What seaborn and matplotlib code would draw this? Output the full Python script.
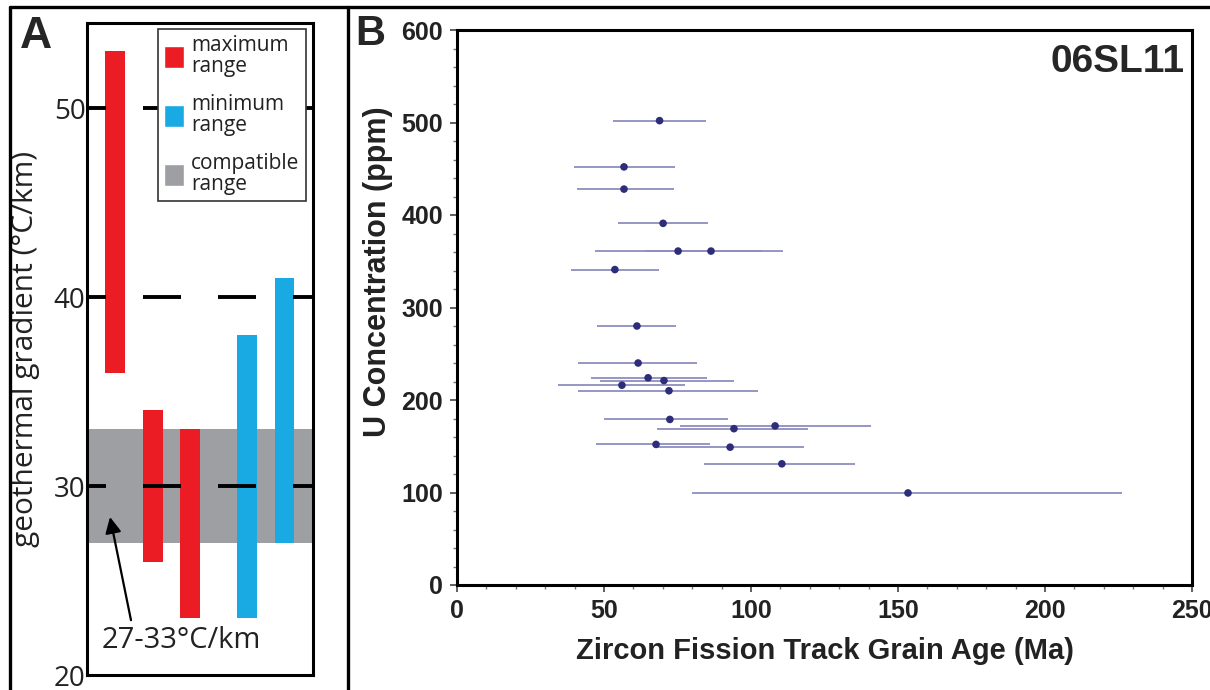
import matplotlib
matplotlib.use("Agg")
import matplotlib.pyplot as plt
import seaborn as sns
import pandas as pd
from matplotlib.patches import Patch
from matplotlib.lines import Line2D
from matplotlib.ticker import MultipleLocator

# ---------------- Panel A data ----------------
range_kind = ["maximum", "maximum", "maximum", "minimum", "minimum"]
range_pos = [1, 2, 3, 4.5, 5.5]
range_low = [36, 26, 23, 23, 27]
range_high = [53, 34, 33, 38, 41]
compatible_range = [27, 33]
gradient_ref = [30, 40, 50]
gradient_ticks = [20, 30, 40, 50]
legend_labels = ["maximum\nrange", "minimum\nrange", "compatible\nrange"]

# ---------------- Panel B data ----------------
grain_age = [68.9, 56.8, 56.8, 70.1, 75.2, 86.4, 53.7, 61.2, 61.6, 65.0,
             70.4, 56.1, 72.1, 72.4, 94.2, 108.2, 67.7, 92.9, 110.5, 153.4]
age_low = [53.1, 39.8, 40.8, 54.8, 46.9, 63.9, 38.8, 47.6, 41.2, 45.6,
           48.6, 34.4, 41.2, 50.0, 68.0, 75.9, 47.3, 67.3, 84.0, 79.9]
age_high = [84.7, 74.1, 73.8, 85.4, 103.7, 110.9, 68.7, 74.5, 81.6, 85.0,
            94.2, 77.6, 102.4, 92.2, 119.4, 140.8, 86.1, 118.0, 135.4, 226.2]
u_ppm = [502, 452, 428, 391, 361, 361, 341, 280, 240, 224,
         221, 216, 210, 179, 169, 172, 152, 149, 131, 99.5]
sample_name = "06SL11"

sns.set_style("white")
plt.rcParams["font.family"] = ["Liberation Sans", "DejaVu Sans"]
plt.rcParams["lines.scale_dashes"] = False

RED = "#ec1c24"
BLUE = "#19a9e3"
GRAY = "#9e9fa2"
kind_color = {"maximum": RED, "minimum": BLUE}

fig = plt.figure(figsize=(12.1, 6.9), dpi=100)
W, H = 1210.0, 690.0

# ---------------- Panel A ----------------
axA = fig.add_axes([87 / W, 1 - 675 / H, 226 / W, 652 / H])
fA = "Open Sans"
axA.axhspan(compatible_range[0], compatible_range[1], color=GRAY, lw=0, zorder=0)
heights = [h - l for h, l in zip(range_high, range_low)]
axA.bar(range_pos, heights, bottom=range_low, width=0.53,
        color=[kind_color[k] for k in range_kind], lw=0, zorder=2)
px = 0.72
for y in gradient_ref:
    axA.axhline(y, color="black", lw=2.8,
                linestyle=(19 * px, (38 * px, 37 * px)), zorder=3)
axA.set_xlim(0.257, 6.257)
axA.set_ylim(20, 54.5)
axA.set_xticks([])
axA.set_yticks(gradient_ticks)
axA.set_yticklabels([str(t) for t in gradient_ticks], family=fA, fontsize=20,
                    color="#222222")
axA.tick_params(axis="y", length=0, pad=1)
axA.set_ylabel("geothermal gradient (°C/km)", family=fA, fontsize=21.5,
               color="#222222", labelpad=0)
axA.yaxis.set_label_coords(40 / 226 - 87 / 226, 0.5)
for s in axA.spines.values():
    s.set_linewidth(2.2)
    s.set_color("black")
handles = [Patch(facecolor=RED), Patch(facecolor=BLUE), Patch(facecolor=GRAY)]
leg = axA.legend(handles, legend_labels, loc="upper right",
                 bbox_to_anchor=(306 / 226 - 87 / 226, 1 - 6 / 652),
                 prop={"family": fA, "size": 15},
                 frameon=True, fancybox=False, edgecolor="#333333", framealpha=1,
                 handlelength=0.95, handleheight=1.25, handletextpad=0.35,
                 labelspacing=0.8, borderpad=0.3, borderaxespad=0)
leg.get_frame().set_linewidth(1.2)
for t in leg.get_texts():
    t.set_linespacing(1.0)
    t.set_color("#222222")
axA.annotate("", xy=(0.868, 28.36), xytext=(1.425, 22.9),
             arrowprops=dict(arrowstyle="-|>", color="black", lw=1.6,
                             mutation_scale=24, shrinkA=0, shrinkB=0), zorder=4)
axA.text(2.75, 21.8, "27-33°C/km", ha="center", va="center", family=fA,
         fontsize=21, color="#222222")

# ---------------- Panel B ----------------
axB = fig.add_axes([457 / W, 1 - 585 / H, 735 / W, 555 / H])
df = pd.DataFrame({"age": grain_age, "lo": age_low, "hi": age_high, "u": u_ppm})
axB.hlines(df["u"], df["lo"], df["hi"], color="#8d8dbf", lw=1.3, zorder=2)
sns.scatterplot(data=df, x="age", y="u", ax=axB, color="#2d2d7a", s=30,
                edgecolor="none", zorder=3, legend=False)
axB.set_xlim(0, 250)
axB.set_ylim(0, 600)
axB.xaxis.set_major_locator(MultipleLocator(50))
axB.xaxis.set_minor_locator(MultipleLocator(10))
axB.yaxis.set_major_locator(MultipleLocator(100))
axB.yaxis.set_minor_locator(MultipleLocator(20))
axB.tick_params(which="major", direction="out", length=5, width=1.2, labelsize=18,
                pad=5, bottom=True, left=True, color="#444444")
axB.tick_params(which="minor", direction="out", length=3, width=1.0,
                bottom=True, left=True, color="#777777")
for lab in axB.get_xticklabels() + axB.get_yticklabels():
    lab.set_fontweight("bold")
    lab.set_color("#222222")
axB.set_xlabel("Zircon Fission Track Grain Age (Ma)", fontsize=21, fontweight="bold",
               color="#222222", labelpad=10)
axB.set_ylabel("U Concentration (ppm)", fontsize=22, fontweight="bold",
               color="#222222")
axB.yaxis.set_label_coords(-(457 - 393) / 735, (585 - 272) / 555)
for s in axB.spines.values():
    s.set_linewidth(2.2)
    s.set_color("black")
axB.text(0.99, 0.975, sample_name, transform=axB.transAxes, ha="right", va="top",
         fontsize=28, fontweight="bold")

# ---------------- panel letters and frames ----------------
fig.text(36 / W, 1 - 36 / H, "A", ha="center", va="center", fontsize=32, fontweight="bold")
fig.text(370 / W, 1 - 34 / H, "B", ha="center", va="center", fontsize=30, fontweight="bold")
ytop = 1 - 7 / H
fig.add_artist(Line2D([10 / W, 1], [ytop, ytop], transform=fig.transFigure, color="black", lw=2.4))
fig.add_artist(Line2D([10 / W, 10 / W], [0, ytop], transform=fig.transFigure, color="black", lw=2.4))
fig.add_artist(Line2D([348 / W, 348 / W], [0, ytop], transform=fig.transFigure, color="black", lw=2.4))

fig.savefig("out.png", dpi=100)
